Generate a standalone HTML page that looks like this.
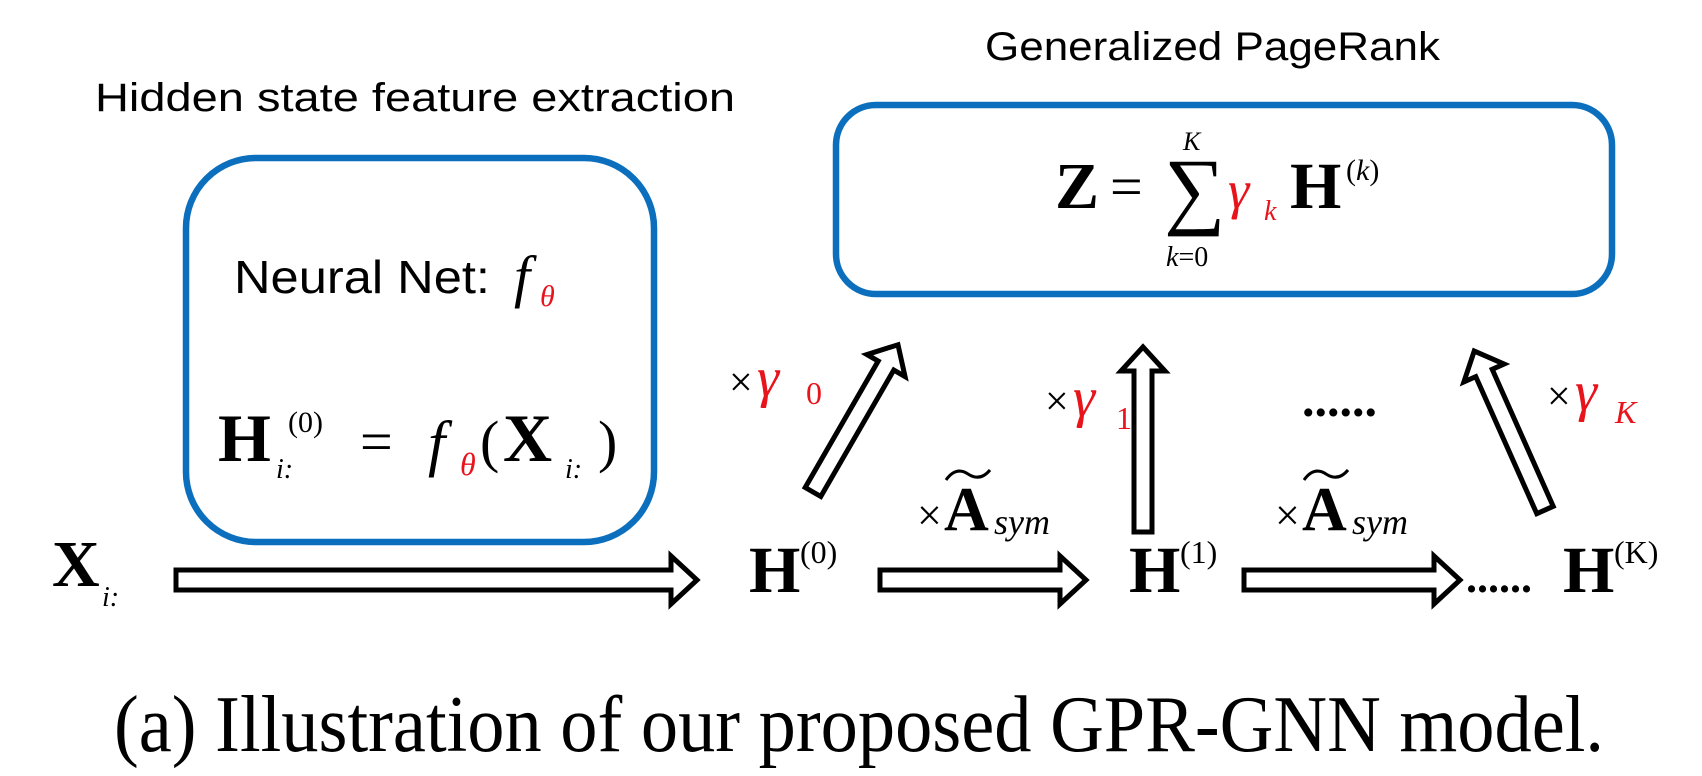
<!DOCTYPE html>
<html><head><meta charset="utf-8"><style>
html,body{margin:0;padding:0;background:#fff;}
svg{display:block;}
.cal{font-family:"Liberation Sans",sans-serif;}
.ser{font-family:"Liberation Serif",serif;}
.r{fill:#e8141c;}
</style></head><body>
<svg width="1702" height="776" viewBox="0 0 1702 776" xmlns="http://www.w3.org/2000/svg">
<!-- titles -->
<text class="cal" x="95" y="111" font-size="40" textLength="640" lengthAdjust="spacingAndGlyphs">Hidden state feature extraction</text>
<text class="cal" x="985" y="60" font-size="40" textLength="455" lengthAdjust="spacingAndGlyphs">Generalized PageRank</text>

<!-- boxes -->
<rect x="186" y="158" width="468" height="384" rx="70" ry="70" fill="none" stroke="#0b6fbd" stroke-width="6.5"/>
<rect x="836" y="105" width="776" height="189" rx="40" ry="40" fill="none" stroke="#0b6fbd" stroke-width="6.5"/>

<!-- left box content -->
<text class="cal" x="234" y="293" font-size="46" textLength="256" lengthAdjust="spacingAndGlyphs">Neural Net:</text>
<text class="ser" x="514" y="296" font-size="58" font-style="italic">f</text>
<text class="ser r" x="540" y="306" font-size="30" font-style="italic">θ</text>

<text class="ser" x="218" y="461" font-size="68" font-weight="bold">H</text>
<text class="ser" x="276" y="478" font-size="28" font-style="italic">i:</text>
<text class="ser" x="288" y="432" font-size="30">(0)</text>
<text class="ser" x="360" y="461" font-size="58">=</text>
<text class="ser" x="428" y="464" font-size="62" font-style="italic">f</text>
<text class="ser r" x="460" y="475" font-size="32" font-style="italic">θ</text>
<text class="ser" x="480" y="461" font-size="58">(</text>
<text class="ser" x="503" y="461" font-size="68" font-weight="bold">X</text>
<text class="ser" x="565" y="478" font-size="28" font-style="italic">i:</text>
<text class="ser" x="598" y="461" font-size="58">)</text>

<!-- top formula -->
<text class="ser" x="1055" y="208" font-size="66" font-weight="bold">Z</text>
<text class="ser" x="1110" y="206" font-size="58">=</text>
<text class="ser" x="1164" y="218" font-size="86">∑</text>
<text class="ser" x="1183" y="150" font-size="26" font-style="italic">K</text>
<text class="ser" x="1166" y="266" font-size="28"><tspan font-style="italic">k</tspan>=0</text>
<text class="ser r" x="1228" y="208" font-size="54" font-style="italic">γ</text>
<text class="ser r" x="1264" y="220" font-size="28" font-style="italic">k</text>
<text class="ser" x="1290" y="208" font-size="66" font-weight="bold">H</text>
<text class="ser" x="1346" y="180" font-size="30">(<tspan font-style="italic">k</tspan>)</text>

<!-- bottom nodes -->
<text class="ser" x="52" y="586" font-size="66" font-weight="bold">X</text>
<text class="ser" x="102" y="606" font-size="28" font-style="italic">i:</text>

<text class="ser" x="749" y="592" font-size="66" font-weight="bold">H</text>
<text class="ser" x="800" y="563" font-size="32">(0)</text>
<text class="ser" x="1129" y="592" font-size="66" font-weight="bold">H</text>
<text class="ser" x="1180" y="563" font-size="32">(1)</text>
<text class="ser" x="1466" y="592" font-size="44" font-weight="bold">......</text>
<text class="ser" x="1563" y="592" font-size="66" font-weight="bold">H</text>
<text class="ser" x="1614" y="563" font-size="32">(K)</text>

<!-- A_sym labels -->
<g>
<text class="ser" x="917" y="530" font-size="44">×</text>
<text class="ser" x="944" y="530" font-size="62" font-weight="bold">A</text>
<path d="M946,480 Q956,466 968,474 Q980,482 990,470" fill="none" stroke="#000" stroke-width="3"/>
<text class="ser" x="994" y="534" font-size="36" font-style="italic">sym</text>
</g>
<g>
<text class="ser" x="1275" y="530" font-size="44">×</text>
<text class="ser" x="1302" y="530" font-size="62" font-weight="bold">A</text>
<path d="M1304,480 Q1314,466 1326,474 Q1338,482 1348,470" fill="none" stroke="#000" stroke-width="3"/>
<text class="ser" x="1352" y="534" font-size="36" font-style="italic">sym</text>
</g>

<!-- gamma labels -->
<text class="ser" x="729" y="396" font-size="42">×</text>
<text class="ser r" x="757" y="396" font-size="56" font-style="italic">γ</text>
<text class="ser r" x="806" y="404" font-size="32">0</text>

<text class="ser" x="1045" y="415" font-size="42">×</text>
<text class="ser r" x="1073" y="416" font-size="56" font-style="italic">γ</text>
<text class="ser r" x="1116" y="429" font-size="32">1</text>

<text class="ser" x="1302" y="416" font-size="50" font-weight="bold">......</text>

<text class="ser" x="1547" y="410" font-size="42">×</text>
<text class="ser r" x="1575" y="410" font-size="56" font-style="italic">γ</text>
<text class="ser r" x="1615" y="423" font-size="32" font-style="italic">K</text>

<!-- arrows -->
<g fill="#fff" stroke="#000" stroke-width="5" stroke-linejoin="miter">
  <polygon transform="translate(176,580)" points="0,-10 495,-10 495,-24 521,0 495,24 495,10 0,10"/>
  <polygon transform="translate(880,580)" points="0,-10 180,-10 180,-24 206,0 180,24 180,10 0,10"/>
  <polygon transform="translate(1244,580)" points="0,-10 190,-10 190,-24 216,0 190,24 190,10 0,10"/>
  <polygon transform="translate(813,492) rotate(-60)" points="0,-9 146,-9 146,-22 170,0 146,22 146,9 0,9"/>
  <polygon transform="translate(1143,532) rotate(-90)" points="0,-9 161,-9 161,-22 185,0 161,22 161,9 0,9"/>
  <polygon transform="translate(1545,510) rotate(-114)" points="0,-9 150,-9 150,-22 174,0 150,22 150,9 0,9"/>
</g>

<!-- caption -->
<text class="ser" x="114" y="751" font-size="80" textLength="1490" lengthAdjust="spacingAndGlyphs">(a)  Illustration of our proposed GPR-GNN model.</text>
</svg>
</body></html>
